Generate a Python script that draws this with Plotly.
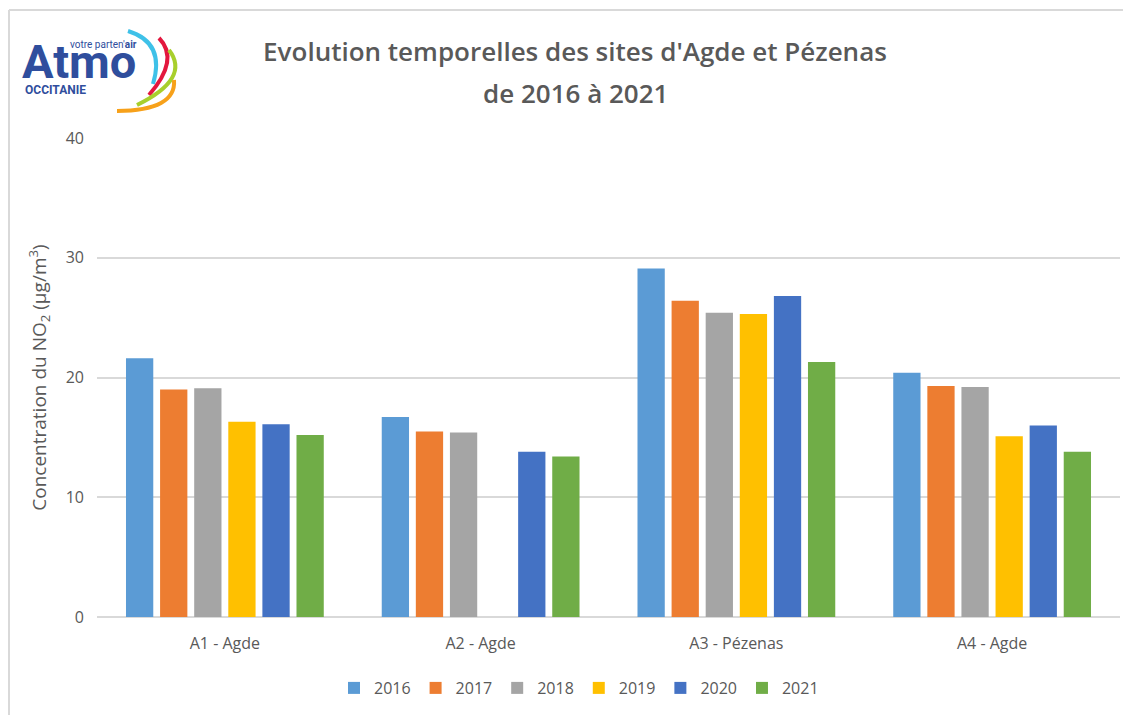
import plotly.graph_objects as go

categories = ["A1 - Agde", "A2 - Agde", "A3 - Pézenas", "A4 - Agde"]
years = ["2016", "2017", "2018", "2019", "2020", "2021"]
v2016 = [21.6, 16.7, 29.1, 20.4]
v2017 = [19.0, 15.5, 26.4, 19.3]
v2018 = [19.1, 15.4, 25.4, 19.2]
v2019 = [16.3, None, 25.3, 15.1]
v2020 = [16.1, 13.8, 26.8, 16.0]
v2021 = [15.2, 13.4, 21.3, 13.8]
series = [v2016, v2017, v2018, v2019, v2020, v2021]
colors = ["#5B9BD5", "#ED7D31", "#A5A5A5", "#FFC000", "#4472C4", "#70AD47"]

W, H = 1131, 715
OFF = 8  # page body margin
L, R, T, B = 97, 1120, 138, 617  # plot area in screen pixels

def px(x):
    return (x - L) / (R - L)

def py(y):
    return (B - y) / (B - T)

fig = go.Figure()
for name, vals, col in zip(years, series, colors):
    fig.add_trace(go.Bar(name=name, x=categories, y=vals, marker_color=col,
                         marker_line_width=0))

grey = "#595959"
FONT = "Open Sans"

fig.update_layout(
    width=W, height=H,
    margin=dict(l=L - OFF, r=W - (R - OFF), t=T - OFF, b=H - (B - OFF)),
    paper_bgcolor="white", plot_bgcolor="white",
    barmode="group", bargap=0.2, bargroupgap=0.2,
    font=dict(family=FONT, color=grey, size=16),
    title=dict(text="Evolution temporelles des sites d'Agde et Pézenas",
               x=px(575), xref="paper", xanchor="center",
               y=1 - (52 - OFF) / H, yanchor="middle", yref="container",
               font=dict(family=FONT, size=26, color=grey, weight=600)),
    legend=dict(orientation="h", x=px(579), xanchor="center", y=py(688), yanchor="middle",
                font=dict(size=16, color=grey), traceorder="normal",
                itemwidth=30),
    showlegend=True,
)
fig.add_annotation(text="de 2016 à 2021", xref="paper", yref="paper",
                   x=px(575), y=py(93), xanchor="center", yanchor="middle", showarrow=False,
                   font=dict(family=FONT, size=26, color=grey, weight=600))

fig.update_xaxes(showline=False, ticks="", showgrid=False, ticklabelstandoff=15,
                 tickfont=dict(size=16, color=grey))
fig.update_yaxes(range=[0, 40], dtick=10, showgrid=True, gridcolor="#d9d9d9", gridwidth=1.5,
                 zeroline=True, zerolinecolor="#d9d9d9", zerolinewidth=1.5,
                 showline=False, ticks="", ticklabelstandoff=12,
                 tickfont=dict(size=16, color=grey),
                 title=dict(text="Concentration du NO<sub>2</sub> (µg/m<sup>3</sup>)",
                            font=dict(size=19, color=grey), standoff=14))

# outer frame (left and top edges)
fig.add_shape(type="line", xref="paper", yref="paper", x0=px(9), x1=px(9), y0=py(10), y1=py(H + 20),
              line=dict(color="#d9d9d9", width=2))
fig.add_shape(type="line", xref="paper", yref="paper", x0=px(9), x1=px(W + 20), y0=py(10), y1=py(10),
              line=dict(color="#d9d9d9", width=2))

# logo
logo_blue = "#2f4e9d"
fig.add_annotation(text="<b>Atmo</b>", xref="paper", yref="paper", x=px(20), y=py(62),
                   xanchor="left", yanchor="middle", showarrow=False,
                   font=dict(family="Roboto", size=47, color=logo_blue))
fig.add_annotation(text="votre parten'<b>air</b>", xref="paper", yref="paper", x=px(139), y=py(44),
                   xanchor="right", yanchor="middle", showarrow=False,
                   font=dict(family="Roboto", size=10, color=logo_blue))
fig.add_annotation(text="<b>OCCITANIE</b>", xref="paper", yref="paper", x=px(23), y=py(90),
                   xanchor="left", yanchor="middle", showarrow=False,
                   font=dict(family="Roboto", size=12, color=logo_blue))

arcs = [
    ("#3ec1e8", (128, 31), (153, 50), (153, 84)),
    ("#e3173e", (159, 38), (167, 63), (149, 95)),
    ("#a8cf2c", (169, 50), (172, 78), (137, 105)),
    ("#f7a11a", (174, 80), (161, 103), (117, 111)),
]
for col, s, m, e in arcs:
    cx = 2 * m[0] - (s[0] + e[0]) / 2
    cy = 2 * m[1] - (s[1] + e[1]) / 2
    path = (f"M {px(s[0])},{py(s[1])} Q {px(cx)},{py(cy)} {px(e[0])},{py(e[1])}")
    fig.add_shape(type="path", xref="paper", yref="paper", path=path,
                  line=dict(color=col, width=4))

fig.write_html("out.html")
